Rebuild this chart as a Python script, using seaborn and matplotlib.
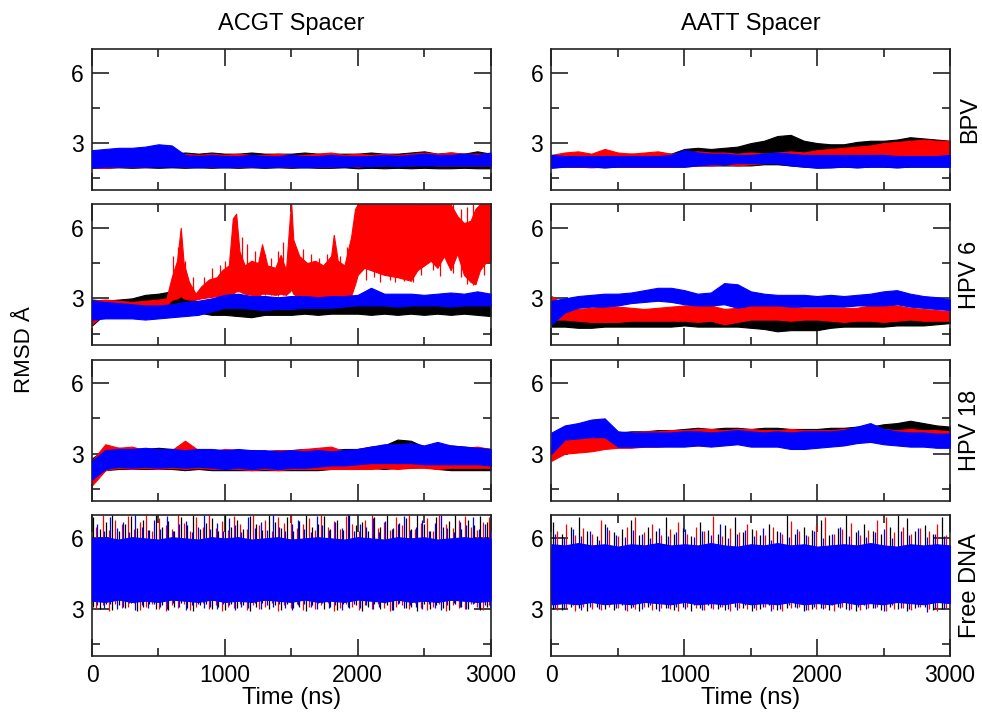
import matplotlib
matplotlib.use("Agg")
import matplotlib.pyplot as plt
import pandas as pd
import seaborn as sns
from matplotlib.ticker import MultipleLocator

sns.set_theme(style="ticks")
plt.rcParams["font.family"] = ["Liberation Sans", "DejaVu Sans"]
plt.rcParams["text.color"] = "black"
plt.rcParams["axes.labelcolor"] = "black"
plt.rcParams["xtick.labelcolor"] = "black"
plt.rcParams["ytick.labelcolor"] = "black"

# ---------------------------------------------------------------------------
# RMSD envelopes (Å): lower / upper edge of each trace, sampled every 100 ns
# ---------------------------------------------------------------------------
TIME_NS = list(range(0, 3001, 100))

COLUMNS = ["ACGT Spacer", "AATT Spacer"]
ROWS = ["BPV", "HPV 6", "HPV 18", "Free DNA"]
COLORS = {"black": "#000000", "red": "#ff0000", "blue": "#0000ff"}

# --- BPV, ACGT spacer
BPV_ACGT_BLACK_LO = [1.95, 1.95, 1.97, 1.95, 1.97, 1.95, 1.97, 1.95, 1.97, 1.95, 1.97, 1.95, 1.97, 1.95, 1.97, 1.95,
                     1.97, 1.95, 1.95, 1.97, 1.93, 1.95, 1.93, 1.95, 1.93, 1.95, 1.93, 1.93, 1.95, 1.93, 1.93]
BPV_ACGT_BLACK_HI = [2.5, 2.55, 2.5, 2.5, 2.5, 2.5, 2.55, 2.6, 2.55, 2.6, 2.55, 2.55, 2.6, 2.55, 2.55, 2.55,
                     2.6, 2.55, 2.55, 2.55, 2.55, 2.6, 2.55, 2.55, 2.6, 2.65, 2.55, 2.6, 2.55, 2.65, 2.55]
BPV_ACGT_RED_LO = [1.95, 1.95, 2.0, 2.0, 2.0, 2.05, 2.05, 2.0, 2.0, 2.0, 2.05, 2.0, 2.0, 2.05, 2.0, 2.0,
                   2.05, 2.0, 2.0, 2.05, 2.0, 2.05, 2.05, 2.1, 2.05, 2.1, 2.05, 2.05, 2.05, 2.05, 2.05]
BPV_ACGT_RED_HI = [2.2, 2.25, 2.3, 2.35, 2.4, 2.45, 2.45, 2.55, 2.5, 2.55, 2.5, 2.55, 2.5, 2.5, 2.55, 2.5,
                   2.5, 2.55, 2.6, 2.5, 2.55, 2.5, 2.55, 2.5, 2.55, 2.6, 2.55, 2.6, 2.55, 2.55, 2.55]
BPV_ACGT_BLUE_LO = [1.95, 2.0, 2.0, 2.0, 2.0, 2.0, 2.0, 2.0, 1.97, 2.0, 1.97, 2.0, 2.0, 1.97, 2.0, 2.0,
                    1.97, 2.0, 2.0, 2.0, 2.02, 2.02, 2.05, 2.02, 2.05, 2.05, 2.05, 2.05, 2.05, 2.05, 2.05]
BPV_ACGT_BLUE_HI = [2.7, 2.75, 2.8, 2.8, 2.85, 2.95, 2.9, 2.5, 2.45, 2.5, 2.45, 2.45, 2.5, 2.45, 2.45, 2.5,
                    2.45, 2.45, 2.5, 2.45, 2.45, 2.45, 2.5, 2.45, 2.5, 2.55, 2.5, 2.5, 2.55, 2.5, 2.6]

# --- BPV, AATT spacer
BPV_AATT_BLACK_LO = [1.97, 2.0, 2.0, 2.0, 1.97, 2.0, 2.0, 2.0, 2.0, 2.0, 2.0, 2.05, 2.05, 2.05, 2.05, 2.05,
                     2.1, 2.1, 2.05, 2.0, 1.97, 1.97, 2.0, 1.97, 2.0, 2.0, 1.97, 2.0, 2.0, 2.0, 2.0]
BPV_AATT_BLACK_HI = [2.45, 2.5, 2.45, 2.5, 2.55, 2.5, 2.55, 2.5, 2.6, 2.55, 2.75, 2.8, 2.75, 2.8, 2.85, 3.0,
                     3.1, 3.3, 3.35, 3.1, 3.0, 2.95, 2.95, 3.05, 3.1, 3.1, 3.15, 3.25, 3.2, 3.15, 3.1]
BPV_AATT_RED_LO = [2.0, 2.0, 2.0, 1.97, 2.0, 2.0, 2.0, 2.0, 2.0, 2.0, 2.05, 2.05, 2.05, 2.1, 2.05, 2.1,
                   2.15, 2.2, 2.3, 2.35, 2.4, 2.4, 2.45, 2.45, 2.5, 2.5, 2.5, 2.45, 2.45, 2.45, 2.45]
BPV_AATT_RED_HI = [2.5, 2.6, 2.65, 2.55, 2.75, 2.6, 2.55, 2.6, 2.65, 2.55, 2.6, 2.65, 2.6, 2.6, 2.55, 2.6,
                   2.55, 2.6, 2.65, 2.6, 2.7, 2.75, 2.8, 2.85, 2.9, 3.0, 3.05, 3.1, 3.15, 3.1, 3.1]
BPV_AATT_BLUE_LO = [1.95, 2.0, 2.0, 2.0, 1.97, 2.0, 2.0, 2.0, 2.0, 2.0, 2.0, 2.05, 2.1, 2.1, 2.15, 2.15,
                    2.15, 2.15, 2.05, 2.0, 1.95, 1.97, 2.0, 1.97, 2.0, 2.0, 1.97, 2.0, 2.0, 2.0, 2.0]
BPV_AATT_BLUE_HI = [2.5, 2.45, 2.45, 2.45, 2.45, 2.45, 2.45, 2.45, 2.45, 2.5, 2.7, 2.6, 2.55, 2.55, 2.5, 2.5,
                    2.55, 2.6, 2.55, 2.5, 2.5, 2.5, 2.5, 2.5, 2.5, 2.5, 2.45, 2.45, 2.45, 2.45, 2.5]

# --- HPV 6, ACGT spacer (red trace has its own, irregular sampling)
HPV6_ACGT_BLACK_LO = [1.85, 2.35, 2.4, 2.45, 2.5, 2.55, 2.6, 2.5, 2.4, 2.3, 2.3, 2.25, 2.2, 2.3, 2.3, 2.3,
                      2.35, 2.3, 2.35, 2.35, 2.35, 2.3, 2.35, 2.3, 2.35, 2.3, 2.35, 2.3, 2.35, 2.3, 2.25]
HPV6_ACGT_BLACK_HI = [2.95, 2.9, 2.95, 3.0, 3.15, 3.2, 3.3, 3.1, 2.85, 2.75, 2.75, 2.7, 2.7, 2.7, 2.75, 2.7,
                      2.75, 2.7, 2.75, 2.7, 2.8, 2.75, 2.8, 2.75, 2.8, 2.75, 2.8, 2.8, 2.75, 2.8, 2.75]
HPV6_ACGT_RED_T = [0, 100, 200, 300, 400, 500, 560, 600, 640, 668, 690, 730, 780, 820, 880, 940, 980, 1030,
                   1060, 1085, 1110, 1150, 1200, 1250, 1280, 1320, 1380, 1420, 1460, 1490, 1500, 1515, 1560,
                   1620, 1680, 1740, 1800, 1820, 1850, 1900, 1950, 1980, 2000, 2050, 2100, 2200, 2300, 2400,
                   2450, 2500, 2550, 2600, 2650, 2700, 2750, 2800, 2850, 2886, 2920, 2960, 3000]
HPV6_ACGT_RED_LO = [1.9, 2.4, 2.4, 2.45, 2.5, 2.55, 2.7, 2.95, 3.0, 3.1, 3.0, 2.95, 2.95, 3.0, 3.05, 3.1, 3.05,
                    3.1, 3.2, 3.3, 3.3, 3.2, 3.15, 3.1, 3.2, 3.2, 3.15, 3.2, 3.15, 3.3, 3.4, 3.2, 3.0, 3.0,
                    3.05, 3.0, 3.0, 3.1, 3.0, 3.0, 3.1, 3.6, 4.0, 4.3, 4.2, 4.0, 3.9, 3.75, 4.2, 4.4, 4.6,
                    4.3, 4.8, 4.2, 4.9, 4.0, 3.7, 3.6, 4.2, 4.5, 4.6]
HPV6_ACGT_RED_HI = [2.9, 2.95, 2.9, 2.85, 2.9, 2.95, 3.0, 3.9, 4.6, 6.0, 4.5, 3.7, 3.2, 3.5, 3.8, 3.9, 4.2,
                    4.4, 6.4, 6.6, 5.0, 4.4, 4.6, 4.5, 5.3, 4.4, 4.3, 4.85, 4.2, 6.5, 7.0, 5.5, 4.8, 4.5,
                    4.6, 4.4, 4.8, 5.7, 4.6, 4.4, 5.6, 6.8, 7.0, 7.0, 7.0, 7.0, 7.0, 7.0, 7.0, 7.0, 7.0,
                    7.0, 7.0, 7.0, 6.5, 6.2, 6.3, 6.8, 7.0, 7.0, 7.0]
HPV6_ACGT_BLUE_LO = [2.1, 2.15, 2.15, 2.15, 2.1, 2.15, 2.2, 2.25, 2.3, 2.45, 2.6, 2.6, 2.55, 2.5, 2.55, 2.55,
                     2.6, 2.6, 2.6, 2.65, 2.7, 2.7, 2.7, 2.65, 2.7, 2.7, 2.7, 2.65, 2.7, 2.7, 2.7]
HPV6_ACGT_BLUE_HI = [2.9, 2.85, 2.8, 2.75, 2.7, 2.7, 2.75, 2.85, 2.9, 3.0, 3.15, 3.2, 3.1, 3.1, 3.05, 3.1,
                     3.1, 3.05, 3.1, 3.1, 3.15, 3.45, 3.2, 3.2, 3.2, 3.15, 3.2, 3.25, 3.2, 3.3, 3.2]
# sharpest red excursions in this panel (time, lowest, highest)
HPV6_ACGT_RED_SPIKE_T = [610, 650, 700, 760, 840, 900, 960, 1000, 1040, 1130, 1170, 1230, 1300, 1350, 1400,
                         1440, 1540, 1590, 1650, 1710, 1770, 1870, 1920, 2060, 2120, 2170, 2240, 2280, 2350,
                         2420, 2480, 2570, 2620, 2680, 2720, 2780, 2820, 2870, 2950]
HPV6_ACGT_RED_SPIKE_LO = [2.95, 3.0, 3.0, 2.95, 3.0, 3.05, 3.05, 3.1, 3.1, 3.25, 3.2, 3.1, 3.15, 3.15, 3.1,
                          3.15, 3.0, 3.0, 3.05, 3.0, 3.0, 3.0, 3.05, 3.8, 3.9, 3.7, 3.8, 3.7, 3.75,
                          3.7, 4.0, 4.2, 3.95, 4.4, 4.1, 3.9, 3.6, 3.55, 4.0]
HPV6_ACGT_RED_SPIKE_HI = [4.8, 5.2, 4.6, 3.9, 3.9, 4.3, 4.4, 4.6, 4.9, 5.6, 5.3, 5.0, 4.9, 4.7, 5.0,
                          5.4, 5.0, 5.1, 4.9, 4.7, 4.9, 4.8, 5.2, 7.0, 7.0, 7.0, 7.0, 7.0, 7.0,
                          7.0, 7.0, 7.0, 7.0, 7.0, 7.0, 6.8, 6.9, 7.0, 7.0]

# --- HPV 6, AATT spacer
HPV6_AATT_BLACK_LO = [1.8, 1.8, 1.75, 1.75, 1.8, 1.8, 1.8, 1.8, 1.8, 1.8, 1.85, 1.8, 1.8, 1.8, 1.8, 1.75,
                      1.7, 1.6, 1.65, 1.65, 1.65, 1.75, 1.8, 1.8, 1.8, 1.8, 1.85, 1.85, 1.85, 1.9, 1.95]
HPV6_AATT_BLACK_HI = [2.4, 2.3, 2.25, 2.25, 2.25, 2.25, 2.3, 2.3, 2.3, 2.3, 2.35, 2.3, 2.3, 2.3, 2.3, 2.25,
                      2.15, 2.1, 2.1, 2.1, 2.15, 2.25, 2.3, 2.3, 2.3, 2.3, 2.3, 2.35, 2.3, 2.3, 2.3]
HPV6_AATT_RED_LO = [2.1, 2.1, 2.05, 2.0, 2.0, 2.0, 2.05, 2.05, 2.05, 2.05, 2.05, 2.0, 2.05, 1.9, 2.0, 2.1,
                    2.1, 2.1, 2.05, 2.1, 2.1, 2.05, 2.0, 2.05, 2.05, 2.0, 2.05, 2.1, 2.05, 2.05, 2.05]
HPV6_AATT_RED_HI = [3.1, 2.7, 2.55, 2.6, 2.65, 2.65, 2.6, 2.55, 2.6, 2.65, 2.7, 2.7, 2.7, 2.55, 2.6, 2.7,
                    2.75, 2.7, 2.65, 2.6, 2.6, 2.6, 2.6, 2.6, 2.7, 2.75, 2.7, 2.6, 2.55, 2.5, 2.45]
HPV6_AATT_BLUE_LO = [1.9, 2.4, 2.6, 2.65, 2.65, 2.7, 2.8, 2.85, 2.9, 2.85, 2.75, 2.7, 2.7, 2.75, 2.6, 2.7,
                     2.7, 2.7, 2.65, 2.65, 2.65, 2.65, 2.65, 2.7, 2.7, 2.7, 2.75, 2.65, 2.6, 2.55, 2.5]
HPV6_AATT_BLUE_HI = [2.9, 3.0, 3.1, 3.15, 3.2, 3.2, 3.25, 3.35, 3.45, 3.45, 3.35, 3.2, 3.25, 3.65, 3.6, 3.3,
                     3.2, 3.15, 3.15, 3.15, 3.1, 3.15, 3.1, 3.15, 3.2, 3.3, 3.35, 3.2, 3.1, 3.05, 2.95]

# --- HPV 18, ACGT spacer
HPV18_ACGT_BLACK_LO = [1.8, 2.3, 2.35, 2.35, 2.35, 2.35, 2.35, 2.3, 2.35, 2.3, 2.3, 2.3, 2.3, 2.3, 2.3, 2.3,
                       2.3, 2.3, 2.35, 2.35, 2.35, 2.4, 2.35, 2.4, 2.4, 2.45, 2.35, 2.3, 2.3, 2.3, 2.3]
HPV18_ACGT_BLACK_HI = [2.8, 3.2, 3.25, 3.2, 3.2, 3.25, 3.2, 3.2, 3.2, 3.15, 3.1, 3.15, 3.1, 3.1, 3.15, 3.15,
                       3.2, 3.15, 3.15, 3.2, 3.2, 3.3, 3.35, 3.6, 3.55, 3.3, 3.3, 3.35, 3.3, 3.25, 3.2]
HPV18_ACGT_RED_LO = [1.65, 2.3, 2.4, 2.35, 2.4, 2.35, 2.4, 2.35, 2.4, 2.35, 2.35, 2.35, 2.3, 2.35, 2.3, 2.35,
                     2.35, 2.35, 2.35, 2.35, 2.35, 2.35, 2.4, 2.35, 2.4, 2.4, 2.35, 2.4, 2.4, 2.4, 2.4]
HPV18_ACGT_RED_HI = [2.7, 3.4, 3.25, 3.3, 3.15, 3.2, 3.15, 3.55, 3.15, 3.1, 3.2, 3.15, 3.15, 3.1, 3.15, 3.15,
                     3.2, 3.25, 3.3, 3.1, 3.2, 3.25, 3.3, 3.2, 3.25, 3.2, 3.35, 3.3, 3.25, 3.3, 3.2]
HPV18_ACGT_BLUE_LO = [1.9, 2.35, 2.45, 2.4, 2.45, 2.4, 2.45, 2.4, 2.45, 2.4, 2.35, 2.4, 2.35, 2.4, 2.35, 2.4,
                      2.4, 2.45, 2.5, 2.5, 2.55, 2.6, 2.6, 2.6, 2.6, 2.55, 2.55, 2.55, 2.55, 2.55, 2.5]
HPV18_ACGT_BLUE_HI = [2.7, 3.15, 3.2, 3.2, 3.25, 3.2, 3.2, 3.15, 3.2, 3.2, 3.15, 3.2, 3.15, 3.15, 3.1, 3.15,
                      3.1, 3.15, 3.1, 3.15, 3.2, 3.3, 3.4, 3.4, 3.45, 3.35, 3.5, 3.35, 3.3, 3.25, 3.2]

# --- HPV 18, AATT spacer
HPV18_AATT_BLACK_LO = [3.0, 3.1, 3.2, 3.25, 3.3, 3.35, 3.4, 3.45, 3.5, 3.5, 3.5, 3.55, 3.55, 3.55, 3.55, 3.55,
                       3.55, 3.6, 3.6, 3.6, 3.6, 3.6, 3.6, 3.65, 3.65, 3.7, 3.7, 3.7, 3.7, 3.7, 3.65]
HPV18_AATT_BLACK_HI = [3.3, 3.6, 3.7, 3.75, 3.8, 3.9, 3.95, 3.95, 4.0, 4.0, 4.05, 4.1, 4.05, 4.1, 4.1, 4.05,
                       4.1, 4.1, 4.05, 4.05, 4.05, 4.1, 4.1, 4.15, 4.15, 4.25, 4.3, 4.4, 4.3, 4.2, 4.15]
HPV18_AATT_RED_LO = [2.7, 3.0, 3.05, 3.1, 3.2, 3.25, 3.25, 3.3, 3.3, 3.35, 3.35, 3.35, 3.4, 3.4, 3.45, 3.45,
                     3.4, 3.45, 3.45, 3.45, 3.45, 3.5, 3.5, 3.55, 3.5, 3.5, 3.5, 3.5, 3.5, 3.55, 3.6]
HPV18_AATT_RED_HI = [3.2, 3.7, 3.75, 3.8, 3.8, 3.85, 3.9, 3.95, 3.95, 4.0, 4.0, 4.05, 4.05, 4.0, 4.05, 4.05,
                     4.0, 4.0, 4.05, 4.0, 4.0, 4.0, 4.05, 4.1, 4.1, 4.05, 4.0, 4.05, 4.0, 4.0, 3.95]
HPV18_AATT_BLUE_LO = [3.0, 3.6, 3.65, 3.7, 3.7, 3.3, 3.3, 3.3, 3.3, 3.3, 3.3, 3.35, 3.3, 3.35, 3.4, 3.3,
                      3.3, 3.3, 3.2, 3.2, 3.25, 3.3, 3.35, 3.45, 3.5, 3.4, 3.35, 3.3, 3.3, 3.25, 3.25]
HPV18_AATT_BLUE_HI = [3.9, 4.2, 4.3, 4.45, 4.5, 3.95, 3.9, 3.9, 3.9, 3.9, 3.95, 3.95, 3.9, 3.95, 4.0, 3.95,
                      3.9, 3.95, 3.9, 3.95, 3.95, 3.95, 4.0, 4.15, 4.3, 4.05, 3.95, 3.9, 3.9, 3.85, 3.85]

# --- Free DNA, ACGT spacer: bulk of the fluctuation ...
FREE_ACGT_BLACK_LO = [3.45, 3.4, 3.45, 3.4, 3.45, 3.4, 3.45, 3.4, 3.45, 3.4, 3.45, 3.4, 3.45, 3.4, 3.45, 3.4,
                      3.45, 3.4, 3.45, 3.4, 3.45, 3.4, 3.45, 3.4, 3.45, 3.4, 3.45, 3.4, 3.45, 3.4, 3.45]
FREE_ACGT_BLACK_HI = [5.9, 5.85, 5.9, 5.85, 5.9, 5.85, 5.9, 5.85, 5.9, 5.85, 5.9, 5.85, 5.9, 5.85, 5.9, 5.85,
                      5.9, 5.85, 5.9, 5.85, 5.9, 5.85, 5.9, 5.85, 5.9, 5.85, 5.9, 5.85, 5.9, 5.85, 5.9]
FREE_ACGT_RED_LO = FREE_ACGT_BLACK_LO
FREE_ACGT_RED_HI = FREE_ACGT_BLACK_HI
FREE_ACGT_BLUE_LO = [3.35, 3.3, 3.4, 3.3, 3.35, 3.3, 3.4, 3.35, 3.3, 3.4, 3.3, 3.35, 3.3, 3.4, 3.35, 3.3,
                     3.4, 3.3, 3.35, 3.3, 3.4, 3.35, 3.3, 3.4, 3.3, 3.35, 3.3, 3.4, 3.35, 3.3, 3.35]
FREE_ACGT_BLUE_HI = [6.0, 6.05, 5.95, 6.05, 6.0, 5.95, 6.05, 6.0, 5.95, 6.05, 6.0, 6.05, 5.95, 6.0, 6.05, 5.95,
                     6.0, 6.05, 6.0, 5.95, 6.05, 6.0, 5.95, 6.05, 6.0, 6.05, 5.95, 6.0, 6.05, 6.0, 6.0]

# ... and its sharpest excursions (time, lowest and highest value)
FREE_ACGT_BLACK_SPIKE_T = [10, 60, 105, 150, 200, 245, 290, 340, 385, 430, 480, 530, 575, 620, 670, 715,
                           760, 810, 855, 905, 950, 1000, 1045, 1090, 1140, 1190, 1235, 1280, 1330, 1375,
                           1420, 1470, 1515, 1560, 1610, 1655, 1700, 1750, 1795, 1845, 1890, 1935, 1985,
                           2030, 2080, 2125, 2170, 2220, 2265, 2310, 2360, 2405, 2450, 2500, 2545, 2590,
                           2640, 2690, 2735, 2780, 2830, 2875, 2920, 2970]
FREE_ACGT_BLACK_SPIKE_LO = [3.1, 3.0, 3.2, 2.95, 3.15, 3.05, 3.25, 2.9, 3.1, 3.2,
                            3.0, 3.15, 2.95, 3.1, 3.25, 3.05, 2.9, 3.15, 3.2, 3.0,
                            3.1, 2.95, 3.2, 3.05, 3.15, 2.9, 3.1, 3.25, 3.0, 3.15,
                            2.95, 3.2, 3.05, 3.1, 2.9, 3.15, 3.25, 3.0, 3.1, 2.95,
                            3.2, 3.05, 3.15, 2.9, 3.1, 3.2, 3.0, 3.15, 2.95, 3.25,
                            3.05, 3.1, 2.9, 3.2, 3.0, 3.15, 3.05, 2.95, 3.2, 3.1,
                            3.0, 3.25, 2.95, 3.1]
FREE_ACGT_BLACK_SPIKE_HI = [6.9, 6.4, 6.7, 7.0, 6.3, 6.6, 6.95, 6.45, 6.8, 6.35,
                            7.0, 6.5, 6.75, 6.3, 6.9, 6.55, 7.0, 6.4, 6.65, 6.85,
                            6.3, 7.0, 6.5, 6.8, 6.4, 6.95, 6.6, 6.35, 7.0, 6.7,
                            6.45, 6.9, 6.3, 6.75, 7.0, 6.5, 6.6, 6.95, 6.4, 6.8,
                            6.35, 7.0, 6.55, 6.7, 6.3, 6.9, 6.5, 7.0, 6.45, 6.65,
                            6.85, 6.4, 7.0, 6.6, 6.3, 6.9, 6.5, 6.75, 7.0, 6.4,
                            6.8, 6.55, 6.95, 6.7]
FREE_ACGT_RED_SPIKE_T = [30, 85, 125, 175, 225, 270, 315, 365, 410, 455, 505, 555, 600, 645, 695, 740,
                         785, 835, 880, 930, 975, 1025, 1070, 1115, 1165, 1215, 1260, 1305, 1355, 1400,
                         1445, 1495, 1540, 1585, 1635, 1680, 1725, 1775, 1820, 1870, 1915, 1960, 2010,
                         2055, 2105, 2150, 2195, 2245, 2290, 2335, 2385, 2430, 2475, 2525, 2570, 2615,
                         2665, 2715, 2760, 2805, 2855, 2900, 2945, 2990]
FREE_ACGT_RED_SPIKE_LO = [3.0, 3.15, 2.9, 3.2, 3.05, 3.1, 3.25, 2.95, 3.1, 3.2,
                          3.0, 2.9, 3.15, 3.05, 3.2, 2.95, 3.1, 3.25, 3.0, 3.15,
                          2.9, 3.1, 3.05, 3.2, 2.95, 3.15, 3.0, 3.1, 3.25, 2.9,
                          3.15, 3.05, 3.2, 2.95, 3.1, 3.0, 3.15, 3.25, 2.9, 3.05,
                          3.2, 3.1, 2.95, 3.15, 3.0, 3.2, 3.05, 2.9, 3.1, 3.15,
                          3.0, 3.25, 3.05, 2.95, 3.1, 3.2, 2.9, 3.15, 3.05, 3.0,
                          3.2, 3.1, 2.95, 3.15]
FREE_ACGT_RED_SPIKE_HI = [6.5, 7.0, 6.35, 6.8, 6.6, 6.95, 6.4, 6.7, 7.0, 6.3,
                          6.85, 6.55, 6.4, 7.0, 6.65, 6.3, 6.9, 6.5, 7.0, 6.45,
                          6.75, 6.35, 6.95, 6.6, 6.4, 7.0, 6.55, 6.8, 6.3, 6.9,
                          6.65, 7.0, 6.45, 6.6, 6.85, 6.35, 7.0, 6.5, 6.75, 6.4,
                          6.95, 6.6, 6.3, 6.8, 7.0, 6.45, 6.7, 6.35, 6.9, 6.55,
                          7.0, 6.4, 6.65, 6.85, 6.3, 7.0, 6.6, 6.45, 6.8, 6.95,
                          6.5, 6.35, 6.7, 6.9]
FREE_ACGT_BLUE_SPIKE_T = [40, 90, 135, 185, 235, 280, 325, 375, 420, 465, 515, 565, 610, 655, 705, 750,
                          795, 845, 890, 940, 985, 1035, 1080, 1125, 1175, 1225, 1270, 1315, 1365, 1410,
                          1455, 1505, 1550, 1595, 1645, 1690, 1735, 1785, 1830, 1880, 1925, 1970, 2020,
                          2065, 2115, 2160, 2205, 2255, 2300, 2345, 2395, 2440, 2485, 2535, 2580, 2625,
                          2675, 2725, 2770, 2815, 2865, 2910, 2955, 2995]
FREE_ACGT_BLUE_SPIKE_LO = [3.15, 3.05, 3.2, 3.0, 3.1, 3.25, 2.95, 3.15, 3.05, 3.2,
                           3.1, 3.0, 3.25, 3.1, 2.95, 3.15, 3.2, 3.05, 3.1, 3.0,
                           3.2, 3.15, 2.95, 3.1, 3.05, 3.25, 3.0, 3.15, 3.1, 3.2,
                           3.05, 2.95, 3.15, 3.2, 3.1, 3.0, 3.25, 3.05, 3.15, 2.95,
                           3.1, 3.2, 3.05, 3.15, 3.0, 3.1, 3.25, 2.95, 3.2, 3.05,
                           3.15, 3.1, 3.0, 3.2, 3.05, 2.95, 3.15, 3.25, 3.1, 3.0,
                           3.2, 3.05, 3.15, 3.1]
FREE_ACGT_BLUE_SPIKE_HI = [6.6, 6.3, 6.9, 6.45, 6.7, 6.25, 7.0, 6.5, 6.35, 6.8,
                           6.4, 6.95, 6.3, 6.6, 6.75, 6.25, 6.5, 7.0, 6.4, 6.65,
                           6.3, 6.85, 6.55, 6.25, 6.9, 6.45, 6.7, 6.35, 7.0, 6.5,
                           6.3, 6.6, 6.8, 6.4, 6.25, 6.95, 6.55, 6.35, 6.7, 6.45,
                           7.0, 6.3, 6.6, 6.5, 6.85, 6.25, 6.75, 6.4, 6.6, 6.95,
                           6.35, 6.5, 6.8, 6.3, 6.65, 7.0, 6.45, 6.25, 6.7, 6.55,
                           6.9, 6.4, 6.6, 6.3]

# --- Free DNA, AATT spacer
FREE_AATT_BLACK_LO = [3.35, 3.3, 3.35, 3.3, 3.35, 3.3, 3.35, 3.3, 3.35, 3.3, 3.35, 3.3, 3.35, 3.3, 3.35, 3.3,
                      3.35, 3.3, 3.35, 3.3, 3.35, 3.3, 3.35, 3.3, 3.35, 3.3, 3.35, 3.3, 3.35, 3.3, 3.35]
FREE_AATT_BLACK_HI = [5.6, 5.55, 5.6, 5.55, 5.6, 5.55, 5.6, 5.55, 5.6, 5.55, 5.6, 5.55, 5.6, 5.55, 5.6, 5.55,
                      5.6, 5.55, 5.6, 5.55, 5.6, 5.55, 5.6, 5.55, 5.6, 5.55, 5.6, 5.55, 5.6, 5.55, 5.6]
FREE_AATT_RED_LO = FREE_AATT_BLACK_LO
FREE_AATT_RED_HI = FREE_AATT_BLACK_HI
FREE_AATT_BLUE_LO = [3.2, 3.25, 3.2, 3.3, 3.2, 3.25, 3.2, 3.3, 3.25, 3.2, 3.3, 3.2, 3.25, 3.2, 3.3, 3.2,
                     3.25, 3.2, 3.3, 3.2, 3.25, 3.2, 3.3, 3.2, 3.25, 3.2, 3.3, 3.25, 3.2, 3.3, 3.25]
FREE_AATT_BLUE_HI = [5.75, 5.7, 5.8, 5.7, 5.75, 5.65, 5.75, 5.7, 5.8, 5.7, 5.75, 5.7, 5.8, 5.7, 5.65, 5.75,
                     5.7, 5.8, 5.7, 5.75, 5.65, 5.7, 5.75, 5.7, 5.8, 5.7, 5.65, 5.75, 5.7, 5.75, 5.7]

FREE_AATT_BLACK_SPIKE_T = [15, 80, 150, 210, 270, 340, 400, 470, 530, 600, 660, 730, 790, 860, 920, 990,
                           1050, 1120, 1180, 1250, 1310, 1380, 1440, 1510, 1570, 1640, 1700, 1770, 1830,
                           1900, 1960, 2030, 2090, 2160, 2220, 2290, 2350, 2420, 2480, 2550, 2610, 2680,
                           2740, 2810, 2870, 2940]
FREE_AATT_BLACK_SPIKE_LO = [3.0, 2.95, 3.1, 3.05, 2.9, 3.1, 3.0, 2.95, 3.15, 3.05,
                            2.9, 3.1, 3.0, 3.05, 2.95, 3.1, 2.9, 3.05, 3.15, 3.0,
                            2.95, 3.1, 3.05, 2.9, 3.0, 3.15, 2.95, 3.05, 3.1, 2.9,
                            3.0, 3.05, 2.95, 3.1, 3.0, 2.9, 3.15, 3.05, 2.95, 3.1,
                            3.0, 2.9, 3.05, 3.1, 2.95, 3.0]
FREE_AATT_BLACK_SPIKE_HI = [6.7, 6.2, 6.5, 6.9, 6.3, 6.1, 6.6, 6.25, 6.4, 6.8,
                            6.15, 6.5, 6.3, 6.9, 6.2, 6.45, 6.1, 6.7, 6.35, 6.2,
                            6.55, 6.9, 6.25, 6.4, 6.15, 6.6, 6.3, 7.0, 6.2, 6.5,
                            6.35, 6.8, 6.15, 6.45, 7.0, 6.25, 6.6, 6.3, 6.2, 6.5,
                            7.0, 6.85, 6.3, 6.55, 6.2, 6.9]
FREE_AATT_RED_SPIKE_T = [45, 110, 180, 240, 305, 370, 435, 500, 565, 630, 695, 760, 825, 890, 955, 1020,
                         1085, 1150, 1215, 1280, 1345, 1410, 1475, 1540, 1605, 1670, 1735, 1800, 1865,
                         1930, 1995, 2060, 2125, 2190, 2255, 2320, 2385, 2450, 2515, 2580, 2645, 2710,
                         2775, 2840, 2905, 2970]
FREE_AATT_RED_SPIKE_LO = [2.95, 3.05, 2.9, 3.1, 3.0, 2.95, 3.1, 3.05, 2.9, 3.0,
                          3.1, 2.95, 3.05, 3.0, 2.9, 3.1, 3.05, 2.95, 3.0, 3.1,
                          2.9, 3.05, 3.0, 2.95, 3.1, 3.0, 2.9, 3.05, 3.1, 2.95,
                          3.0, 3.05, 2.9, 3.1, 3.0, 2.95, 3.05, 3.1, 2.9, 3.0,
                          3.05, 2.95, 3.1, 3.0, 2.9, 3.05]
FREE_AATT_RED_SPIKE_HI = [6.3, 6.6, 6.15, 6.45, 6.2, 6.8, 6.35, 6.1, 6.5, 6.9,
                          6.25, 6.6, 6.15, 6.4, 6.7, 6.2, 6.5, 6.3, 6.95, 6.1,
                          6.45, 6.25, 6.6, 6.35, 6.15, 6.5, 6.2, 6.75, 6.3, 6.1,
                          6.55, 6.9, 6.2, 6.4, 6.65, 6.15, 6.35, 6.8, 6.9, 6.25,
                          6.5, 6.2, 6.45, 6.3, 6.6, 6.15]
FREE_AATT_BLUE_SPIKE_T = [30, 95, 160, 225, 290, 355, 420, 485, 550, 615, 680, 745, 810, 875, 940, 1005,
                          1070, 1135, 1200, 1265, 1330, 1395, 1460, 1525, 1590, 1655, 1720, 1785, 1850,
                          1915, 1980, 2045, 2110, 2175, 2240, 2305, 2370, 2435, 2500, 2565, 2630, 2695,
                          2760, 2825, 2890, 2955]
FREE_AATT_BLUE_SPIKE_LO = [3.05, 3.0, 3.15, 2.95, 3.1, 3.0, 3.2, 3.05, 2.95, 3.1,
                           3.0, 3.15, 2.9, 3.05, 3.1, 3.0, 3.15, 2.95, 3.05, 3.1,
                           3.0, 2.95, 3.15, 3.05, 3.1, 2.9, 3.0, 3.15, 3.05, 2.95,
                           3.1, 3.0, 3.15, 3.05, 2.95, 3.1, 3.0, 3.05, 2.9, 3.15,
                           3.05, 3.0, 3.1, 2.85, 3.05, 3.0]
FREE_AATT_BLUE_SPIKE_HI = [6.2, 6.0, 6.4, 6.1, 6.3, 5.95, 6.5, 6.15, 6.05, 6.35,
                           6.2, 6.0, 6.45, 6.1, 6.25, 6.4, 6.05, 6.3, 6.15, 6.6,
                           6.0, 6.2, 6.35, 6.1, 6.45, 5.95, 6.25, 6.05, 6.4, 6.15,
                           6.3, 6.0, 6.2, 6.5, 6.1, 6.35, 6.05, 6.25, 6.4, 6.0,
                           6.3, 6.15, 6.45, 6.05, 6.2, 6.1]

# ---------------------------------------------------------------------------
# (row, column) -> list of (colour, time, lo, hi) traces, drawn back to front
PANELS = {
    (0, 0): [("black", TIME_NS, BPV_ACGT_BLACK_LO, BPV_ACGT_BLACK_HI),
             ("red", TIME_NS, BPV_ACGT_RED_LO, BPV_ACGT_RED_HI),
             ("blue", TIME_NS, BPV_ACGT_BLUE_LO, BPV_ACGT_BLUE_HI)],
    (0, 1): [("black", TIME_NS, BPV_AATT_BLACK_LO, BPV_AATT_BLACK_HI),
             ("red", TIME_NS, BPV_AATT_RED_LO, BPV_AATT_RED_HI),
             ("blue", TIME_NS, BPV_AATT_BLUE_LO, BPV_AATT_BLUE_HI)],
    (1, 0): [("black", TIME_NS, HPV6_ACGT_BLACK_LO, HPV6_ACGT_BLACK_HI),
             ("red", HPV6_ACGT_RED_T, HPV6_ACGT_RED_LO, HPV6_ACGT_RED_HI),
             ("blue", TIME_NS, HPV6_ACGT_BLUE_LO, HPV6_ACGT_BLUE_HI)],
    (1, 1): [("black", TIME_NS, HPV6_AATT_BLACK_LO, HPV6_AATT_BLACK_HI),
             ("red", TIME_NS, HPV6_AATT_RED_LO, HPV6_AATT_RED_HI),
             ("blue", TIME_NS, HPV6_AATT_BLUE_LO, HPV6_AATT_BLUE_HI)],
    (2, 0): [("black", TIME_NS, HPV18_ACGT_BLACK_LO, HPV18_ACGT_BLACK_HI),
             ("red", TIME_NS, HPV18_ACGT_RED_LO, HPV18_ACGT_RED_HI),
             ("blue", TIME_NS, HPV18_ACGT_BLUE_LO, HPV18_ACGT_BLUE_HI)],
    (2, 1): [("black", TIME_NS, HPV18_AATT_BLACK_LO, HPV18_AATT_BLACK_HI),
             ("red", TIME_NS, HPV18_AATT_RED_LO, HPV18_AATT_RED_HI),
             ("blue", TIME_NS, HPV18_AATT_BLUE_LO, HPV18_AATT_BLUE_HI)],
    (3, 0): [("black", TIME_NS, FREE_ACGT_BLACK_LO, FREE_ACGT_BLACK_HI),
             ("red", TIME_NS, FREE_ACGT_RED_LO, FREE_ACGT_RED_HI),
             ("blue", TIME_NS, FREE_ACGT_BLUE_LO, FREE_ACGT_BLUE_HI)],
    (3, 1): [("black", TIME_NS, FREE_AATT_BLACK_LO, FREE_AATT_BLACK_HI),
             ("red", TIME_NS, FREE_AATT_RED_LO, FREE_AATT_RED_HI),
             ("blue", TIME_NS, FREE_AATT_BLUE_LO, FREE_AATT_BLUE_HI)],
}
SPIKES = {
    (1, 0): [("red", HPV6_ACGT_RED_SPIKE_T, HPV6_ACGT_RED_SPIKE_LO, HPV6_ACGT_RED_SPIKE_HI)],
    (3, 0): [("black", FREE_ACGT_BLACK_SPIKE_T, FREE_ACGT_BLACK_SPIKE_LO, FREE_ACGT_BLACK_SPIKE_HI),
             ("red", FREE_ACGT_RED_SPIKE_T, FREE_ACGT_RED_SPIKE_LO, FREE_ACGT_RED_SPIKE_HI),
             ("blue", FREE_ACGT_BLUE_SPIKE_T, FREE_ACGT_BLUE_SPIKE_LO, FREE_ACGT_BLUE_SPIKE_HI)],
    (3, 1): [("black", FREE_AATT_BLACK_SPIKE_T, FREE_AATT_BLACK_SPIKE_LO, FREE_AATT_BLACK_SPIKE_HI),
             ("red", FREE_AATT_RED_SPIKE_T, FREE_AATT_RED_SPIKE_LO, FREE_AATT_RED_SPIKE_HI),
             ("blue", FREE_AATT_BLUE_SPIKE_T, FREE_AATT_BLUE_SPIKE_LO, FREE_AATT_BLUE_SPIKE_HI)],
}
LAYER = {"black": 1, "red": 2, "blue": 3}


def draw_trace(ax, color, t, lo, hi):
    """Fill the min-max envelope of one trace with seaborn's interval band."""
    frame = pd.DataFrame({"time": list(t) + list(t), "rmsd": list(lo) + list(hi)})
    z = LAYER[color]
    sns.lineplot(data=frame, x="time", y="rmsd", ax=ax, color=COLORS[color],
                 estimator="mean", errorbar=("pi", 100), linewidth=0, zorder=z,
                 err_kws={"alpha": 1.0, "linewidth": 0.8, "zorder": z})


fig, axes = plt.subplots(4, 2, figsize=(9.82, 7.14), dpi=100)
fig.subplots_adjust(left=0.0937, right=0.9674, top=0.9314, bottom=0.0812,
                    wspace=0.153, hspace=0.1)

for (r, c), traces in PANELS.items():
    ax = axes[r, c]
    for color, t, lo, hi in traces:
        draw_trace(ax, color, t, lo, hi)
    for color, t, lo, hi in SPIKES.get((r, c), []):
        ax.vlines(t, lo, hi, colors=COLORS[color], linewidth=0.9,
                  zorder=LAYER[color] + 0.5)

    ax.set_xlim(0, 3000)
    ax.set_ylim(1, 7)
    ax.xaxis.set_major_locator(MultipleLocator(1000))
    ax.xaxis.set_minor_locator(MultipleLocator(500))
    ax.yaxis.set_major_locator(MultipleLocator(3))
    ax.yaxis.set_minor_locator(MultipleLocator(1.5))
    ax.tick_params(which="both", direction="in", top=True, right=True,
                   width=1.2, color="#222222", labelcolor="black",
                   labelsize=16.5, pad=6)
    ax.tick_params(which="major", length=12)
    ax.tick_params(which="minor", length=6)
    for spine in ax.spines.values():
        spine.set_linewidth(1.2)
        spine.set_color("#222222")
    ax.set_ylabel("")
    if r < 3:
        ax.set_xlabel("")
        ax.tick_params(labelbottom=False)
    else:
        ax.set_xlabel("Time (ns)", fontsize=17, labelpad=0, color="black")
    if r == 0:
        ax.set_title(COLUMNS[c], fontsize=17, pad=14, color="black")
    if c == 1:
        ax.text(1.05, 0.5, ROWS[r], transform=ax.transAxes, rotation=90,
                ha="center", va="center", fontsize=17, color="black")

fig.text(25 / 982, 1 - 350 / 714, "RMSD Å", rotation=90, ha="center",
         va="center", fontsize=16, color="black")

fig.savefig("out.png", dpi=100)
